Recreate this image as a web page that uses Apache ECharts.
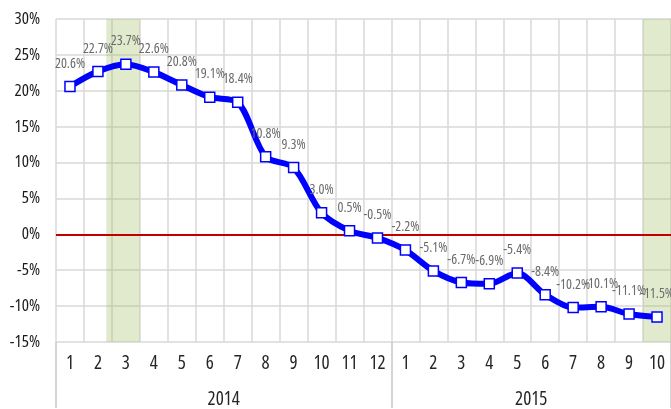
<!DOCTYPE html>
<html>
<head>
<meta charset="utf-8">
<script src="https://cdn.jsdelivr.net/npm/echarts@6/dist/echarts.min.js"></script>
<style>
html,body{margin:0;padding:0;background:#fff;}
#c{width:671px;height:409px;}
</style>
</head>
<body>
<div id="c"></div>
<script>
const months = ['1','2','3','4','5','6','7','8','9','10','11','12','1','2','3','4','5','6','7','8','9','10'];
const years = ['2014','2015'];
const monthsPerYear = [12, 10];
const growth = [20.6, 22.7, 23.7, 22.6, 20.8, 19.1, 18.4, 10.8, 9.3, 3.0, 0.5, -0.5, -2.2, -5.1, -6.7, -6.9, -5.4, -8.4, -10.2, -10.1, -11.1, -11.5];
// shaded ranges, in month-slot units along the axis
const highlightRanges = [[1.8, 3.0], [21, 22]];

const FONT = '"Open Sans"';
const STRETCH = 'condensed';

const yearCenters = [];
const yearBounds = [0];
let acc = 0;
monthsPerYear.forEach(n => { yearCenters.push(acc + n / 2); acc += n; yearBounds.push(acc); });

const chart = echarts.init(document.getElementById('c'), null, {renderer: 'canvas'});
chart.setOption({
  animation: false,
  grid: {left: 56, top: 19, width: 616, height: 324, containLabel: false},
  xAxis: [{
    type: 'category',
    data: months,
    boundaryGap: true,
    axisLine: {show: true, lineStyle: {color: '#d0d0d0', width: 1.5}},
    axisTick: {show: false},
    splitLine: {show: true, lineStyle: {color: '#d9d9d9', width: 1.5}},
    axisLabel: {color: '#262626', fontFamily: FONT, fontStyle: STRETCH, fontSize: 19, margin: 12, interval: 0}
  }, {
    type: 'value',
    position: 'bottom',
    min: 0, max: months.length,
    axisLine: {show: false},
    splitLine: {show: false},
    axisTick: {show: true, customValues: yearBounds, length: 66, inside: false,
      lineStyle: {color: '#c8c8c8', width: 1.5}},
    axisLabel: {show: true, customValues: yearCenters, margin: 48,
      color: '#262626', fontFamily: FONT, fontStyle: STRETCH, fontSize: 19,
      formatter: v => { const i = yearCenters.indexOf(v); return i >= 0 ? years[i] : ''; }}
  }],
  yAxis: {
    type: 'value',
    min: -15, max: 30, interval: 5,
    axisLine: {show: false},
    axisTick: {show: false},
    splitLine: {show: true, lineStyle: {color: '#d9d9d9', width: 1.5}},
    axisLabel: {color: '#1a1a1a', fontFamily: FONT, fontStyle: STRETCH, fontSize: 17, margin: 16,
      formatter: '{value}%'}
  },
  series: [{
    type: 'line',
    data: growth,
    smooth: 0.3,
    z: 3,
    lineStyle: {color: '#0000ff', width: 6},
    symbol: 'rect',
    symbolSize: 10,
    itemStyle: {color: '#ffffff', borderColor: '#0000ff', borderWidth: 1.5},
    label: {show: true, position: 'top', distance: 10, color: '#6b6b6b',
      fontFamily: FONT, fontStyle: STRETCH, fontSize: 14,
      formatter: p => p.value.toFixed(1) + '%'},
    markLine: {
      silent: true, symbol: 'none', z: 2,
      label: {show: false},
      lineStyle: {color: '#c00000', width: 2, type: 'solid'},
      data: [{yAxis: 0}]
    }
  }, {
    type: 'line',
    xAxisIndex: 1,
    data: [],
    z: 10,
    silent: true,
    markArea: {
      silent: true,
      itemStyle: {color: 'rgba(155,187,89,0.3)'},
      data: highlightRanges.map(r => [{xAxis: r[0]}, {xAxis: r[1]}])
    }
  }]
});
</script>
</body>
</html>
